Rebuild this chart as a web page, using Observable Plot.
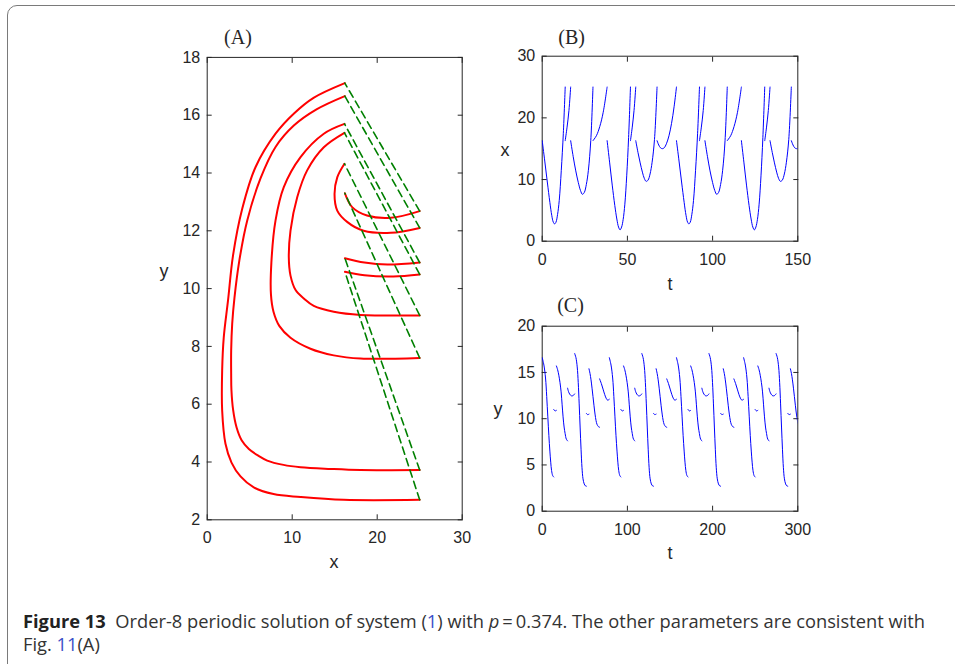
<!DOCTYPE html>
<html><head><meta charset="utf-8">
<script src="https://cdn.jsdelivr.net/npm/d3@7"></script>
<script src="https://cdn.jsdelivr.net/npm/@observablehq/plot@0.6"></script>
<style>
body{margin:0;background:#fff;}
#root{position:relative;width:955px;height:664px;overflow:hidden;background:#fff;}
.box{position:absolute;left:7px;top:5px;width:1000px;height:720px;border:1.5px solid #7a7a7a;border-radius:10px;box-sizing:border-box;}
.lbl{position:absolute;transform:translate(-50%,-50%);font-family:"Liberation Sans",Arial,sans-serif;font-size:18px;color:#262626;white-space:nowrap;line-height:1;}
.ttl{position:absolute;transform:translate(-50%,-50%);font-family:"Liberation Serif","Times New Roman",serif;font-size:20px;color:#262626;white-space:nowrap;line-height:1;}
.panel{position:absolute;}
.cap{position:absolute;left:23px;font-family:"Open Sans",sans-serif;font-size:18px;line-height:24px;color:#333;white-space:nowrap;transform-origin:0 0;}
.cap b{color:#222;}
.lnk{color:#3b4ec8;}
</style></head><body>
<div id="root">
  <div class="box"></div>
  <div class="panel" id="pA" style="left:150px;top:30px"></div>
  <div class="panel" id="pB" style="left:490px;top:30px"></div>
  <div class="panel" id="pC" style="left:490px;top:300px"></div>
  <div class="ttl" style="left:238px;top:37px">(A)</div>
  <div class="ttl" style="left:571.7px;top:37px">(B)</div>
  <div class="ttl" style="left:570.5px;top:305px">(C)</div>
  <div class="lbl" style="left:164px;top:271px">y</div>
  <div class="lbl" style="left:334px;top:562px">x</div>
  <div class="lbl" style="left:505px;top:150px">x</div>
  <div class="lbl" style="left:670px;top:284px">t</div>
  <div class="lbl" style="left:498px;top:409px">y</div>
  <div class="lbl" style="left:670px;top:553px">t</div>
  <div class="cap" id="cap1" style="top:609px"><b>Figure 13</b>&nbsp; Order-8 periodic solution of system (<span class="lnk">1</span>) with <i>p</i>&thinsp;=&thinsp;0.374. The other parameters are consistent with</div>
  <div class="cap" id="cap2" style="top:632px">Fig. <span class="lnk">11</span>(A)</div>
</div>
<script>
// ---- tick values ----
const xTicksA = [0, 10, 20, 30];
const yTicksA = [2, 4, 6, 8, 10, 12, 14, 16, 18];
const tTicksB = [0, 50, 100, 150];
const xTicksB = [0, 10, 20, 30];
const tTicksC = [0, 100, 200, 300];
const yTicksC = [0, 5, 10, 15, 20];

// ---- phase portrait (panel A): the 8 orbit pieces, in order of visit, [x, y] ----
const orbit1 = [[16.19,16.66],[12.86,16.2],[10.19,15.64],[8.04,14.9],[6.27,13.81],[4.71,12.36],[3.78,10.97],[3.21,9.69],[2.94,8.78],[2.82,7.86],[2.82,7.05],[2.85,6.5],[3.05,5.8],[3.45,5.2],[4.05,4.75],[4.9,4.45],[6.0,4.22],[7.06,4.05],[8.98,3.9],[10.98,3.82],[14.51,3.76],[18.04,3.72],[25,3.72]];
const orbit2 = [[16.2,11.05],[18.5,10.9],[21.2,10.83],[25,10.9]];
const orbit3 = [[16.15,15.7],[13.72,15.36],[10.98,14.55],[9.01,13.51],[8.04,12.36],[7.55,10.9],[7.5,9.8],[7.8,9.2],[8.5,8.7],[9.8,8.3],[12.15,7.92],[14.89,7.69],[18.04,7.58],[25,7.6]];
const orbit4 = [[16.2,13.3],[17.05,12.82],[18.8,12.53],[21.6,12.45],[25,12.68]];
const orbit5 = [[16.19,17.11],[12.51,16.6],[10.21,16.06],[8.04,15.36],[5.68,14.2],[4.12,12.76],[3.04,11.15],[2.45,9.59],[1.95,8.32],[1.76,7.17],[1.76,5.78],[2.15,4.63],[2.86,3.98],[3.92,3.5],[5.48,3.12],[7.8,2.89],[10.98,2.79],[16.07,2.69],[25,2.69]];
const orbit6 = [[16.2,10.58],[18.5,10.46],[21.9,10.42],[25,10.49]];
const orbit7 = [[16.15,15.39],[13.72,14.89],[11.76,14.09],[10.59,13.16],[9.8,12.01],[9.6,11.09],[9.8,10.45],[10.4,9.95],[11.4,9.65],[12.54,9.4],[14.89,9.2],[18.04,9.09],[25,9.07]];
const orbit8 = [[16.15,14.32],[15.3,13.85],[14.98,13.27],[15.3,12.7],[16.5,12.3],[18.4,12.0],[21.6,11.93],[25,12.1]];

// ---- x(t) of each orbit piece (panel B): [time since piece start, x] ----
const xPiece1 = [[0,16.3],[1.5,13],[3,9.6],[4.5,6.3],[5.6,4.2],[6.5,3.1],[7.3,2.8],[8.1,3.1],[9,4.3],[10,6.6],[11.2,11.5],[12.4,17.5],[13.5,25]];
const xPiece2 = [[0,16.3],[1.1,18.5],[2.2,21.2],[3.2,25]];
const xPiece3 = [[0,16.3],[1.5,13.7],[3,11.4],[4.5,9.5],[5.8,8.2],[6.9,7.6],[8,7.9],[9.2,9.2],[10.4,11.5],[11.8,16.3],[13.1,25]];
const xPiece4 = [[0,16.3],[2,17.1],[4,18.6],[6,20.9],[8.3,25]];
const xPiece5 = [[0,16.3],[1.5,12.7],[3,9.1],[4.5,5.8],[5.7,3.6],[6.7,2.3],[7.6,1.84],[8.5,2.3],[9.4,3.5],[10.4,6],[11.5,10.6],[12.6,16.8],[13.7,25]];
const xPiece6 = [[0,16.3],[1.05,18.5],[2.1,21.2],[3.1,25]];
const xPiece7 = [[0,16.3],[1.3,14.4],[2.6,12.7],[3.9,11.2],[5,10.2],[6.1,9.7],[7.2,9.9],[8.4,10.9],[9.6,12.8],[11,16.5],[12.5,25]];
const xPiece8 = [[0,16.3],[1,15.6],[2,15.15],[3.1,15.0],[4.2,15.15],[5.5,15.8],[7,17.1],[8.5,19.1],[10,21.8],[11.4,25]];

// ---- y(t) of each orbit piece (panel C): [time since piece start, y] ----
const yPiece1 = [[0,16.6],[2,15.8],[3.9,14.4],[5.3,12.4],[6.6,10.2],[7.8,8.2],[9,6.5],[10,5.3],[11,4.4],[12.3,3.85],[13.5,3.7]];
const yPiece2 = [[0,11.0],[1.6,10.84],[3.2,10.9]];
const yPiece3 = [[0,15.7],[1.4,15.3],[2.8,14.7],[4.2,13.9],[5.5,12.9],[6.7,11.5],[7.8,10.2],[9,9.1],[10.2,8.4],[11.6,7.8],[13.1,7.6]];
const yPiece4 = [[0,13.3],[1,12.95],[2.5,12.65],[4.5,12.47],[6.5,12.5],[8.3,12.68]];
const yPiece5 = [[0,17.05],[1.5,16.6],[3,15.6],[4.2,13.9],[5.3,11.6],[6.4,9.1],[7.5,6.7],[8.6,4.7],[9.8,3.5],[11.2,2.95],[12.5,2.75],[13.7,2.7]];
const yPiece6 = [[0,10.58],[1.5,10.44],[3.1,10.49]];
const yPiece7 = [[0,15.4],[1.2,14.9],[2.4,14.2],[3.6,13.3],[4.7,12.4],[5.9,11.4],[7.1,10.5],[8.3,9.8],[9.4,9.4],[11,9.15],[12.5,9.07]];
const yPiece8 = [[0,14.3],[2,13.8],[4,13.2],[6,12.6],[8,12.15],[9.5,12.0],[11.4,12.1]];

// start time of each piece within one period, and start time of each period
const phaseStarts = [0, 13.5, 16.7, 29.8, 38.1, 51.8, 54.9, 67.4];
const periodStarts = [0, 78.8, 157.6, 236.4];

// ---- build tables ----
const orbits = [orbit1, orbit2, orbit3, orbit4, orbit5, orbit6, orbit7, orbit8];
const xPieces = [xPiece1, xPiece2, xPiece3, xPiece4, xPiece5, xPiece6, xPiece7, xPiece8];
const yPieces = [yPiece1, yPiece2, yPiece3, yPiece4, yPiece5, yPiece6, yPiece7, yPiece8];

const orbitRows = orbits.flatMap((o, i) => o.map(([x, y]) => ({x, y, id: i})));
const jumpRows = orbits.flatMap((o, i) => {
  const a = o[o.length - 1], b = orbits[(i + 1) % orbits.length][0];
  return [{x: a[0], y: a[1], id: i}, {x: b[0], y: b[1], id: i}];
});
function series(pieces) {
  return periodStarts.flatMap((p, k) => pieces.flatMap((s, i) =>
    s.map(([tau, v]) => ({t: p + phaseStarts[i] + tau, v, id: k * 8 + i}))));
}
const rowsB = series(xPieces);
const rowsC = series(yPieces);

const ink = "#262626";
const fs = 16;
function axes(xt, yt) {
  return [
    Plot.frame({stroke: ink, strokeWidth: 1}),
    Plot.axisX({anchor: "bottom", ticks: xt, tickSize: -5, tickPadding: 17, label: null, fontSize: fs}),
    Plot.axisX({anchor: "top", ticks: xt, tickSize: -5, tickFormat: () => "", label: null}),
    Plot.axisY({anchor: "left", ticks: yt, tickSize: -5, tickPadding: 12, label: null, fontSize: fs}),
    Plot.axisY({anchor: "right", ticks: yt, tickSize: -5, tickFormat: () => "", label: null})
  ];
}
const style = {fontFamily: "'Liberation Sans', Arial, sans-serif", fontSize: "16px", color: ink, background: "transparent", overflow: "visible"};

const plotA = Plot.plot({
  width: 330, height: 560, marginLeft: 56.7, marginTop: 26.9, marginRight: 18.3, marginBottom: 70.7,
  x: {domain: [0, 30]}, y: {domain: [2, 18]}, style,
  marks: [
    ...axes(xTicksA, yTicksA),
    Plot.line(orbitRows, {x: "x", y: "y", z: "id", stroke: "#ff0000", strokeWidth: 2, curve: "catmull-rom"}),
    Plot.line(jumpRows, {x: "x", y: "y", z: "id", stroke: "#008000", strokeWidth: 1.6, strokeDasharray: "7.5,4.5"})
  ]
});
document.getElementById("pA").append(plotA);

const plotB = Plot.plot({
  width: 320, height: 250, marginLeft: 51.7, marginTop: 25.7, marginRight: 12.7, marginBottom: 39.3,
  x: {domain: [0, 150]}, y: {domain: [0, 30]}, style,
  marks: [
    ...axes(tTicksB, xTicksB),
    Plot.line(rowsB, {x: "t", y: "v", z: "id", stroke: "#0000ff", strokeWidth: 1, curve: "catmull-rom", clip: true})
  ]
});
document.getElementById("pB").append(plotB);

const plotC = Plot.plot({
  width: 320, height: 250, marginLeft: 51.7, marginTop: 25.7, marginRight: 12.7, marginBottom: 39.3,
  x: {domain: [0, 300]}, y: {domain: [0, 20]}, style,
  marks: [
    ...axes(tTicksC, yTicksC),
    Plot.line(rowsC, {x: "t", y: "v", z: "id", stroke: "#0000ff", strokeWidth: 1, curve: "catmull-rom", clip: true})
  ]
});
document.getElementById("pC").append(plotC);

// fit the caption line to its width in the reference (condensed face)
const c1 = document.getElementById("cap1"), c2 = document.getElementById("cap2");
const w = c1.getBoundingClientRect().width;
const s = 902 / w;
c1.style.transform = `scaleX(${s})`;
c2.style.transform = `scaleX(${s})`;
</script>
</body></html>
